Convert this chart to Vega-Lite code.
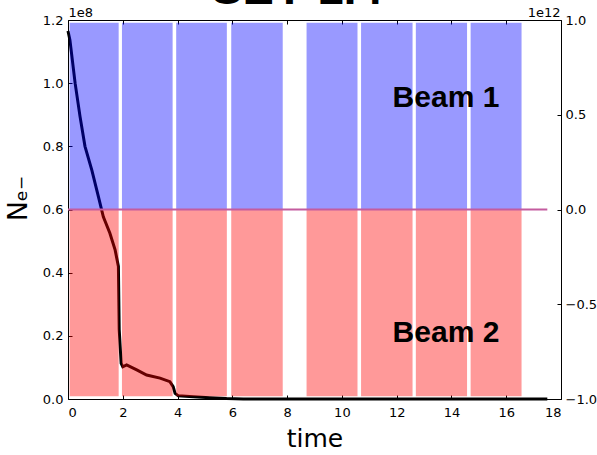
{
  "$schema": "https://vega.github.io/schema/vega-lite/v6.json",
  "width": 493,
  "height": 379,
  "autosize": {"type": "none"},
  "padding": {"left": 68, "top": 20, "right": 36, "bottom": 56},
  "background": "white",
  "config": {
    "view": {"stroke": "#000", "strokeWidth": 1},
    "axis": {
      "domain": false,
      "grid": false,
      "labelFont": "DejaVu Sans",
      "labelFontSize": 13,
      "labelColor": "#000",
      "tickColor": "#000",
      "tickSize": -4,
      "titleFont": "DejaVu Sans",
      "titleFontWeight": "normal",
      "titleColor": "#000"
    }
  },
  "datasets": {
    "ne": [
      {"t": 0.0, "ne": 116500000},
      {"t": 0.07, "ne": 113700000},
      {"t": 0.26, "ne": 100000000},
      {"t": 0.44, "ne": 89400000},
      {"t": 0.62, "ne": 80000000},
      {"t": 0.87, "ne": 72500000},
      {"t": 1.11, "ne": 64100000},
      {"t": 1.29, "ne": 57700000},
      {"t": 1.53, "ne": 52500000},
      {"t": 1.72, "ne": 47200000},
      {"t": 1.84, "ne": 42000000},
      {"t": 1.87, "ne": 22000000},
      {"t": 1.94, "ne": 11300000},
      {"t": 2.0, "ne": 10200000},
      {"t": 2.14, "ne": 10800000},
      {"t": 2.51, "ne": 9200000},
      {"t": 2.87, "ne": 7600000},
      {"t": 3.36, "ne": 6600000},
      {"t": 3.72, "ne": 5500000},
      {"t": 3.84, "ne": 3900000},
      {"t": 3.91, "ne": 1800000},
      {"t": 4.03, "ne": 1000000},
      {"t": 4.57, "ne": 700000},
      {"t": 5.18, "ne": 400000},
      {"t": 5.79, "ne": 150000},
      {"t": 6.4, "ne": 30000},
      {"t": 8.0, "ne": 10000},
      {"t": 17.5, "ne": 0}
    ],
    "trains": [
      {"beam": "Beam 1", "start": 0.06, "end": 1.85, "intensity": 985000000000},
      {"beam": "Beam 1", "start": 1.97, "end": 3.82, "intensity": 985000000000},
      {"beam": "Beam 1", "start": 3.95, "end": 5.8, "intensity": 985000000000},
      {"beam": "Beam 1", "start": 5.96, "end": 7.84, "intensity": 985000000000},
      {"beam": "Beam 1", "start": 8.71, "end": 10.57, "intensity": 985000000000},
      {"beam": "Beam 1", "start": 10.7, "end": 12.58, "intensity": 985000000000},
      {"beam": "Beam 1", "start": 12.7, "end": 14.57, "intensity": 985000000000},
      {"beam": "Beam 1", "start": 14.7, "end": 16.56, "intensity": 985000000000},
      {"beam": "Beam 2", "start": 0.06, "end": 1.85, "intensity": -985000000000},
      {"beam": "Beam 2", "start": 1.97, "end": 3.82, "intensity": -985000000000},
      {"beam": "Beam 2", "start": 3.95, "end": 5.8, "intensity": -985000000000},
      {"beam": "Beam 2", "start": 5.96, "end": 7.84, "intensity": -985000000000},
      {"beam": "Beam 2", "start": 8.71, "end": 10.57, "intensity": -985000000000},
      {"beam": "Beam 2", "start": 10.7, "end": 12.58, "intensity": -985000000000},
      {"beam": "Beam 2", "start": 12.7, "end": 14.57, "intensity": -985000000000},
      {"beam": "Beam 2", "start": 14.7, "end": 16.56, "intensity": -985000000000}
    ],
    "baseline": [
      {"start": 0, "end": 17.5, "level": 0}
    ],
    "labels": [
      {"label": "Beam 1", "t": 13.8, "v": 540000000000},
      {"label": "Beam 2", "t": 13.8, "v": -700000000000}
    ],
    "heading": [
      {"label": "SEY 1.4", "t": 8.36, "v": 1082000000000}
    ]
  },
  "layer": [
    {
      "data": {"name": "ne"},
      "mark": {"type": "line", "color": "#000", "strokeWidth": 3},
      "encoding": {
        "x": {
          "field": "t",
          "type": "quantitative",
          "scale": {"domain": [0, 18], "nice": false, "zero": false},
          "axis": {
            "orient": "bottom",
            "values": [0, 2, 4, 6, 8, 10, 12, 14, 16, 18],
            "format": "d",
            "labelPadding": 11,
            "title": "time",
            "titleFontSize": 25,
            "titlePadding": 7
          }
        },
        "y": {
          "field": "ne",
          "type": "quantitative",
          "scale": {"domain": [0, 120000000], "nice": false},
          "axis": {
            "orient": "left",
            "values": [0, 20000000, 40000000, 60000000, 80000000, 100000000, 120000000],
            "labelExpr": "format(datum.value / 1e8, '.1f')",
            "labelPadding": 9,
            "title": "Nₑ₋",
            "titleFontSize": 27,
            "titleAngle": -90,
            "titleAlign": "center",
            "titleBaseline": "alphabetic",
            "titleX": -42,
            "titleY": 178
          }
        }
      }
    },
    {
      "data": {"name": "trains"},
      "mark": {"type": "bar", "opacity": 0.4},
      "encoding": {
        "x": {
          "field": "start",
          "type": "quantitative",
          "axis": {
            "orient": "top",
            "values": [0, 2, 4, 6, 8, 10, 12, 14, 16, 18],
            "labels": false,
            "title": "1e8",
            "titleFontSize": 13,
            "titleAngle": 0,
            "titleAlign": "left",
            "titleBaseline": "alphabetic",
            "titleX": 0,
            "titleY": -4
          }
        },
        "x2": {"field": "end"},
        "y": {
          "field": "intensity",
          "type": "quantitative",
          "scale": {"domain": [-1000000000000, 1000000000000], "nice": false},
          "axis": {
            "orient": "right",
            "values": [-1000000000000, -500000000000, 0, 500000000000, 1000000000000],
            "labelExpr": "format(datum.value / 1e12, '.1f')",
            "labelPadding": 8,
            "title": "1e12",
            "titleFontSize": 13,
            "titleAngle": 0,
            "titleAlign": "right",
            "titleBaseline": "alphabetic",
            "titleX": -1,
            "titleY": -4
          }
        },
        "y2": {"datum": 0},
        "color": {
          "field": "beam",
          "type": "nominal",
          "scale": {"domain": ["Beam 1", "Beam 2"], "range": ["#0000ff", "#ff0000"]},
          "legend": null
        }
      }
    },
    {
      "data": {"name": "baseline"},
      "mark": {"type": "rule", "color": "#c45c9f", "strokeWidth": 2},
      "encoding": {
        "x": {"field": "start", "type": "quantitative", "axis": null},
        "x2": {"field": "end"},
        "y": {
          "field": "level",
          "type": "quantitative",
          "scale": {"domain": [-1000000000000, 1000000000000], "nice": false},
          "axis": null
        }
      }
    },
    {
      "data": {"name": "labels"},
      "mark": {
        "type": "text",
        "font": "Liberation Sans",
        "fontSize": 30,
        "fontWeight": "bold",
        "color": "#000",
        "align": "center",
        "baseline": "alphabetic"
      },
      "encoding": {
        "x": {"field": "t", "type": "quantitative", "axis": null},
        "y": {
          "field": "v",
          "type": "quantitative",
          "scale": {"domain": [-1000000000000, 1000000000000], "nice": false},
          "axis": null
        },
        "text": {"field": "label"}
      }
    },
    {
      "data": {"name": "heading"},
      "mark": {
        "type": "text",
        "font": "Liberation Sans",
        "fontSize": 47,
        "fontWeight": "bold",
        "color": "#000",
        "align": "center",
        "baseline": "alphabetic",
        "clip": false
      },
      "encoding": {
        "x": {"field": "t", "type": "quantitative", "axis": null},
        "y": {
          "field": "v",
          "type": "quantitative",
          "scale": {"domain": [-1000000000000, 1000000000000], "nice": false},
          "axis": null
        },
        "text": {"field": "label"}
      }
    }
  ],
  "resolve": {"scale": {"y": "independent"}}
}
